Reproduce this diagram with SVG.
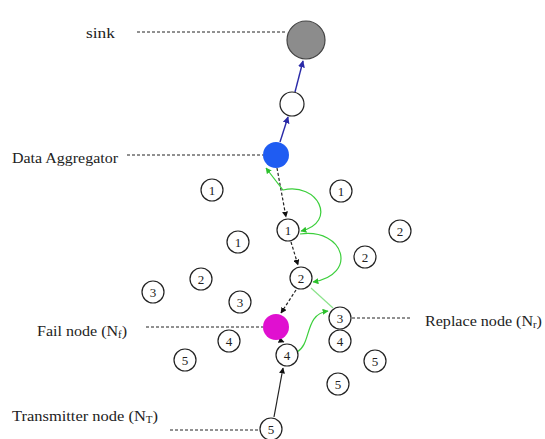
<svg xmlns="http://www.w3.org/2000/svg" width="545" height="439" viewBox="0 0 545 439">
<style>
.lbl{font-size:15px;fill:#222}
.num{font-size:13px;fill:#222;text-anchor:middle}
.n{fill:#fff;stroke:#222;stroke-width:1.2}
.lead{stroke:#222;stroke-width:1;stroke-dasharray:3,2;fill:none}
.chain{stroke:#222;stroke-width:1.2;stroke-dasharray:3,2;fill:none;marker-end:url(#ak)}
.blue{stroke:#2a2aa8;stroke-width:1.4;fill:none;marker-end:url(#ab)}
.green{stroke:#3ccf3c;stroke-width:1.2;fill:none}
</style>
<defs>
<marker id="ak" viewBox="0 0 10 10" refX="9" refY="5" markerWidth="5" markerHeight="5" orient="auto"><path d="M0,0L10,5L0,10z" fill="#111"/></marker>
<marker id="ab" viewBox="0 0 10 10" refX="9" refY="5" markerWidth="5" markerHeight="5" orient="auto"><path d="M0,0L10,5L0,10z" fill="#2a2aa8"/></marker>
<marker id="ag" viewBox="0 0 10 10" refX="9" refY="5" markerWidth="5" markerHeight="5" orient="auto-start-reverse"><path d="M0,0L10,5L0,10z" fill="#2cc02c"/></marker>
</defs>

<g id="labels" font-family="Liberation Serif, DejaVu Serif, Times New Roman, serif">
<text class="lbl" x="86" y="38" textLength="29" lengthAdjust="spacingAndGlyphs">sink</text>
<text class="lbl" x="12" y="163" textLength="106" lengthAdjust="spacingAndGlyphs">Data Aggregator</text>
<text class="lbl" x="37" y="336" textLength="90" lengthAdjust="spacingAndGlyphs">Fail node (N<tspan font-size="10" dy="2">f</tspan><tspan dy="-2">)</tspan></text>
<text class="lbl" x="425" y="326" textLength="117" lengthAdjust="spacingAndGlyphs">Replace node (N<tspan font-size="10" dy="2">r</tspan><tspan dy="-2">)</tspan></text>
<text class="lbl" x="12" y="421" textLength="146" lengthAdjust="spacingAndGlyphs">Transmitter node (N<tspan font-size="10" dy="2">T</tspan><tspan dy="-2">)</tspan></text>
</g>

<g id="connectors">
<line class="lead" x1="137" y1="32" x2="287" y2="32"/>
<line class="lead" x1="127" y1="155" x2="263" y2="155"/>
<line class="lead" x1="146" y1="327" x2="263" y2="327"/>
<line class="lead" x1="352" y1="318" x2="412" y2="318"/>
<line class="lead" x1="170" y1="430" x2="259" y2="430"/>
<line class="blue" x1="280" y1="142" x2="288" y2="117"/>
<line class="blue" x1="295" y1="92" x2="303" y2="61"/>
<line class="chain" x1="277" y1="168" x2="286" y2="217"/>
<line class="chain" x1="291" y1="242" x2="298" y2="265"/>
<line class="chain" x1="296" y1="290" x2="281" y2="313"/>
<line class="chain" x1="279" y1="340" x2="284" y2="342"/>
<line stroke="#222" stroke-width="1.2" marker-end="url(#ak)" x1="274" y1="417" x2="283" y2="368"/>
<path class="green" marker-start="url(#ag)" marker-end="url(#ag)" d="M266,168 L283,190 C318,182 338,222 301,231"/>
<path class="green" marker-end="url(#ag)" d="M300,234 C345,228 358,275 313,282"/>
<path class="green" stroke-opacity="0.6" d="M311,288 L333,308"/>
<path class="green" marker-end="url(#ag)" d="M297,352 C312,344 304,314 328,311"/>
</g>

<g id="sink"><circle cx="306" cy="40" r="19" fill="#8c8c8c" stroke="#444" stroke-width="1.2"/></g>
<g id="relay"><circle class="n" cx="292" cy="104" r="12"/></g>
<g id="aggregator"><circle cx="276" cy="155" r="13" fill="#1f5cf2"/></g>
<g id="fail"><circle cx="276" cy="327" r="13" fill="#e010d0"/></g>

<g id="nodes" font-family="Liberation Serif, DejaVu Serif, Times New Roman, serif">
<g id="n1a"><circle class="n" cx="212" cy="190" r="11"/><text class="num" x="212" y="194.5">1</text></g>
<g id="n1b"><circle class="n" cx="341" cy="191" r="11"/><text class="num" x="341" y="195.5">1</text></g>
<g id="n1c"><circle class="n" cx="288" cy="230" r="11"/><text class="num" x="288" y="234.5">1</text></g>
<g id="n1d"><circle class="n" cx="238" cy="242" r="11"/><text class="num" x="238" y="246.5">1</text></g>
<g id="n2a"><circle class="n" cx="400" cy="231" r="11"/><text class="num" x="400" y="235.5">2</text></g>
<g id="n2b"><circle class="n" cx="365" cy="257" r="11"/><text class="num" x="365" y="261.5">2</text></g>
<g id="n2c"><circle class="n" cx="301" cy="278" r="11"/><text class="num" x="301" y="282.5">2</text></g>
<g id="n2d"><circle class="n" cx="201" cy="279" r="11"/><text class="num" x="201" y="283.5">2</text></g>
<g id="n3a"><circle class="n" cx="153" cy="292" r="11"/><text class="num" x="153" y="296.5">3</text></g>
<g id="n3b"><circle class="n" cx="240" cy="302" r="11"/><text class="num" x="240" y="306.5">3</text></g>
<g id="n3c"><circle class="n" cx="340" cy="318" r="11"/><text class="num" x="340" y="322.5">3</text></g>
<g id="n4a"><circle class="n" cx="229" cy="341" r="11"/><text class="num" x="229" y="345.5">4</text></g>
<g id="n4b"><circle class="n" cx="287" cy="355" r="11"/><text class="num" x="287" y="359.5">4</text></g>
<g id="n4c"><circle class="n" cx="340" cy="341" r="11"/><text class="num" x="340" y="345.5">4</text></g>
<g id="n5a"><circle class="n" cx="185" cy="360" r="11"/><text class="num" x="185" y="364.5">5</text></g>
<g id="n5b"><circle class="n" cx="375" cy="361" r="11"/><text class="num" x="375" y="365.5">5</text></g>
<g id="n5c"><circle class="n" cx="338" cy="384" r="11"/><text class="num" x="338" y="388.5">5</text></g>
<g id="n5d"><circle class="n" cx="271" cy="429" r="11"/><text class="num" x="271" y="433.5">5</text></g>
</g>
</svg>
